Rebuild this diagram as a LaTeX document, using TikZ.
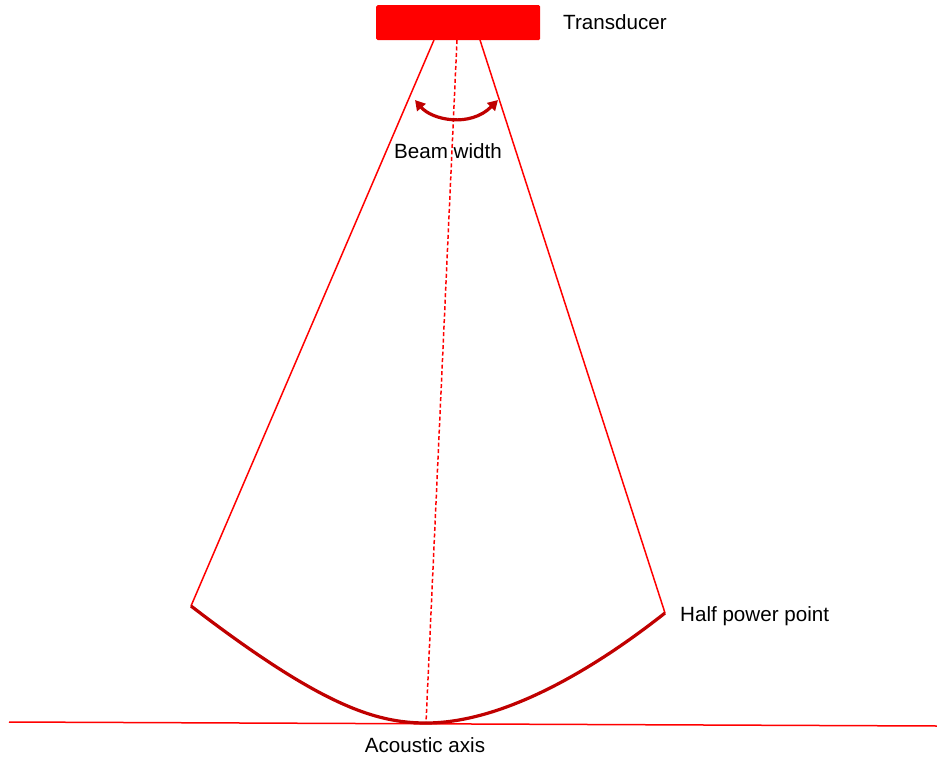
\documentclass[tikz,border=0pt]{standalone}
\usepackage{fontspec}
\setmainfont{Liberation Sans}
\usetikzlibrary{arrows.meta}
\definecolor{beamred}{HTML}{FF0000}
\definecolor{darkred}{HTML}{C00000}
\begin{document}
\begin{tikzpicture}[x=1pt,y=-1pt,
  beam/.style={draw=beamred, line width=1.5pt},
  axisline/.style={draw=beamred, line width=1.5pt, dash pattern=on 4pt off 2.5pt},
  thick curve/.style={draw=darkred, line width=3.2pt},
  lbl/.style={font=\fontsize{20.6}{24}\selectfont, text=black, inner sep=0pt}]
\useasboundingbox (0,0) rectangle (937,757);
\fill[white] (0,0) rectangle (937,757);
% transducer
\node[fill=beamred, rounded corners=1.5pt, minimum width=164pt, minimum height=35pt, inner sep=0pt, anchor=north west] (tr) at (376,5) {};
\node[lbl, anchor=west] (trl) at (563,22) {Transducer};
% beam points
\coordinate (tl) at (434,40);
\coordinate (trr) at (480,40);
\coordinate (tc) at (457,40);
\coordinate (bl) at (191,606);
\coordinate (br) at (665,613);
\coordinate (bc) at (426,723);
\coordinate (hl) at (9,722);
\coordinate (hr) at (937,726);
\draw[beam] (hl) -- (hr);
\draw[beam] (tl) -- (bl);
\draw[beam] (trr) -- (br);
\draw[axisline] (tc) -- (bc);
\draw[thick curve] (bl) .. controls (320,705) and (375,723) .. (bc) .. controls (495,723) and (580,680) .. (br);
% beam width arrow
\coordinate (aw1) at (415,100);
\coordinate (aw2) at (498,100);
\draw[draw=darkred, line width=3.2pt, {Triangle[length=10pt,width=11pt]}-{Triangle[length=10pt,width=11pt]}] (aw1) .. controls (432,120) and (470,128) .. (aw2);
\node[lbl] (bw) at (448,151) {Beam width};
\node[lbl, anchor=west] (hp) at (680,616) {Half power point};
\node[lbl] (ax) at (425,745) {Acoustic axis};
\end{tikzpicture}
\end{document}
